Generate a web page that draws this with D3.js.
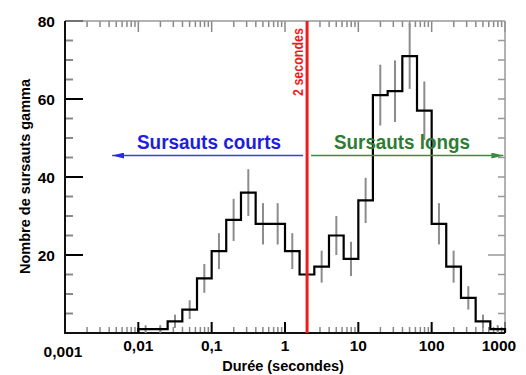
<!DOCTYPE html>
<html>
<head>
<meta charset="utf-8">
<script src="https://cdn.jsdelivr.net/npm/d3@7"></script>
<style>
  html, body { margin: 0; padding: 0; background: #fff; }
  svg { display: block; }
  text { font-family: "Liberation Sans", Arial, sans-serif; font-weight: bold; }
</style>
</head>
<body>
<svg id="chart" width="526" height="375"></svg>
<script>
// ---- data ----
const binEdges = [0.01, 0.0158, 0.0251, 0.0398, 0.0631, 0.1, 0.158, 0.251, 0.398, 0.631,
                  1, 1.58, 2.51, 3.98, 6.31, 10, 15.8, 25.1, 39.8, 63.1,
                  100, 158, 251, 398, 631, 1000];
const counts = [1, 1, 3, 6, 14, 21, 29, 36, 28, 28, 21, 15, 17, 25, 19, 34, 61, 62, 71, 57, 28, 17, 9, 3, 1];
const errors = [1, 1, 1.7, 2.4, 3.7, 4.6, 5.4, 6, 5.3, 5.3, 4.6, 3.9, 4.1, 5, 4.4, 5.8, 7.8, 7.9, 8.4, 7.5, 5.3, 4.1, 3, 1.7, 1];
const xTickValues = [0.001, 0.01, 0.1, 1, 10, 100, 1000];
const xTickLabels = ["0,001", "0,01", "0,1", "1", "10", "100", "1000"];
const yTickValues = [20, 40, 60, 80];
const yTickLabels = ["20", "40", "60", "80"];
const separation = 2; // seconds
const xTitle = "Durée (secondes)";
const yTitle = "Nombre de sursauts gamma";
const lineLabel = "2 secondes";
const shortLabel = "Sursauts courts";
const longLabel = "Sursauts longs";
const arrowLevel = 45.5;
const shortArrowEnd = 0.0044, longArrowEnd = 950;

// ---- layout ----
const L = 65, R = 505, T = 21, B = 333;
const svg = d3.select("#chart");
const x = d3.scaleLog().domain([0.001, 1000]).range([L, R]);
const y = d3.scaleLinear().domain([0, 80]).range([B, T]);

const isMajorX = v => Math.abs(Math.log10(v) - Math.round(Math.log10(v))) < 1e-9;
const allX = x.ticks();
const minorY = d3.range(5, 80, 5);

// bottom ticks (pointing up)
svg.append("g").selectAll("line").data(allX).join("line")
  .attr("x1", d => x(d)).attr("x2", d => x(d))
  .attr("y1", B).attr("y2", d => isMajorX(d) ? B - 11 : B - 6)
  .attr("stroke", d => isMajorX(d) ? "#000" : "#888")
  .attr("stroke-width", d => isMajorX(d) ? 2 : 1.5);
// top ticks (pointing down)
svg.append("g").selectAll("line").data(allX).join("line")
  .attr("x1", d => x(d)).attr("x2", d => x(d))
  .attr("y1", T).attr("y2", d => isMajorX(d) ? T + 11 : T + 6)
  .attr("stroke", "#888").attr("stroke-width", 1.5);
// left ticks
svg.append("g").selectAll("line").data(minorY).join("line")
  .attr("y1", d => y(d)).attr("y2", d => y(d))
  .attr("x1", L).attr("x2", d => d % 20 === 0 ? L + 18 : L + 8)
  .attr("stroke", d => d % 20 === 0 ? "#000" : "#888")
  .attr("stroke-width", 2);
svg.append("line").attr("x1", L).attr("x2", L + 18).attr("y1", y(80)).attr("y2", y(80))
  .attr("stroke", "#000").attr("stroke-width", 2);
// right ticks
svg.append("g").selectAll("line").data(minorY).join("line")
  .attr("y1", d => y(d)).attr("y2", d => y(d))
  .attr("x1", R).attr("x2", d => d === 20 ? R - 17 : R - 7)
  .attr("stroke", "#999").attr("stroke-width", 1.5);

// frame
svg.append("line").attr("x1", L).attr("x2", R).attr("y1", T).attr("y2", T).attr("stroke", "#999").attr("stroke-width", 1.5);
svg.append("line").attr("x1", R).attr("x2", R).attr("y1", T).attr("y2", B).attr("stroke", "#999").attr("stroke-width", 1.5);
svg.append("line").attr("x1", L).attr("x2", L).attr("y1", T).attr("y2", B + 1).attr("stroke", "#111").attr("stroke-width", 2);
svg.append("line").attr("x1", L - 1).attr("x2", R).attr("y1", B).attr("y2", B).attr("stroke", "#111").attr("stroke-width", 2);

// tick labels
svg.append("g").selectAll("text").data(xTickValues).join("text")
  .attr("x", (d, i) => i === 0 ? x(d) - 2 : (i === xTickValues.length - 1 ? x(d) - 6 : x(d)))
  .attr("y", (d, i) => i === 0 ? 357 : 351)
  .attr("text-anchor", "middle").attr("font-size", 15.5).attr("fill", "#000")
  .text((d, i) => xTickLabels[i]);
svg.append("g").selectAll("text").data(yTickValues).join("text")
  .attr("x", 55).attr("y", d => y(d) + 5.5)
  .attr("text-anchor", "end").attr("font-size", 15.5).attr("fill", "#000")
  .text((d, i) => yTickLabels[i]);

// axis titles
svg.append("text").attr("x", 283).attr("y", 371).attr("text-anchor", "middle")
  .attr("font-size", 14.5).attr("fill", "#000").text(xTitle);
svg.append("text").attr("transform", "translate(29.5,176.5) rotate(-90)")
  .attr("text-anchor", "middle").attr("font-size", 14.5).attr("fill", "#000")
  .attr("textLength", 195).attr("lengthAdjust", "spacingAndGlyphs").text(yTitle);

// error bars
const bins = counts.map((c, i) => ({ lo: binEdges[i], hi: binEdges[i + 1], c, e: errors[i] }));
svg.append("g").selectAll("line").data(bins).join("line")
  .attr("x1", d => x(Math.sqrt(d.lo * d.hi))).attr("x2", d => x(Math.sqrt(d.lo * d.hi)))
  .attr("y1", d => y(Math.max(0, d.c - d.e))).attr("y2", d => y(Math.min(80, d.c + d.e)))
  .attr("stroke", "#8c8c8c").attr("stroke-width", 2);

// histogram step line
const pts = [[x(binEdges[0]), y(0)]];
bins.forEach(b => { pts.push([x(b.lo), y(b.c)]); pts.push([x(b.hi), y(b.c)]); });
pts.push([x(binEdges[binEdges.length - 1]), y(0)]);
svg.append("path").attr("d", d3.line()(pts)).attr("fill", "none")
  .attr("stroke", "#000").attr("stroke-width", 2.2).attr("stroke-linejoin", "miter");

// separation line
svg.append("line").attr("x1", x(separation)).attr("x2", x(separation)).attr("y1", T).attr("y2", B)
  .attr("stroke", "#ee1c1c").attr("stroke-width", 3);
svg.append("text").attr("transform", `translate(${x(separation) - 4},28) rotate(-90)`)
  .attr("text-anchor", "end").attr("font-size", 14.5).attr("fill", "#ee1c1c")
  .attr("textLength", 68).attr("lengthAdjust", "spacingAndGlyphs").text(lineLabel);

// arrows
const defs = svg.append("defs");
function marker(id, color) {
  defs.append("marker").attr("id", id).attr("viewBox", "0 0 12 6").attr("refX", 12).attr("refY", 3)
    .attr("markerWidth", 12).attr("markerHeight", 6).attr("markerUnits", "userSpaceOnUse")
    .attr("orient", "auto").append("path").attr("d", "M0,0L12,3L0,6Z").attr("fill", color);
}
marker("ab", "#2a2ae0");
marker("ag", "#3d8a45");
svg.append("line").attr("x1", x(separation) - 4).attr("x2", x(shortArrowEnd))
  .attr("y1", y(arrowLevel)).attr("y2", y(arrowLevel))
  .attr("stroke", "#3a3ae6").attr("stroke-width", 1.6).attr("marker-end", "url(#ab)");
svg.append("line").attr("x1", x(separation) + 4).attr("x2", x(longArrowEnd))
  .attr("y1", y(arrowLevel)).attr("y2", y(arrowLevel))
  .attr("stroke", "#3d8a45").attr("stroke-width", 1.6).attr("marker-end", "url(#ag)");

svg.append("text").attr("x", 137).attr("y", 148.5).attr("font-size", 20).attr("fill", "#1e1ee0")
  .attr("textLength", 144).attr("lengthAdjust", "spacingAndGlyphs").text(shortLabel);
svg.append("text").attr("x", 334).attr("y", 148.5).attr("font-size", 20).attr("fill", "#2f7d35")
  .attr("textLength", 136).attr("lengthAdjust", "spacingAndGlyphs").text(longLabel);
</script>
</body>
</html>
